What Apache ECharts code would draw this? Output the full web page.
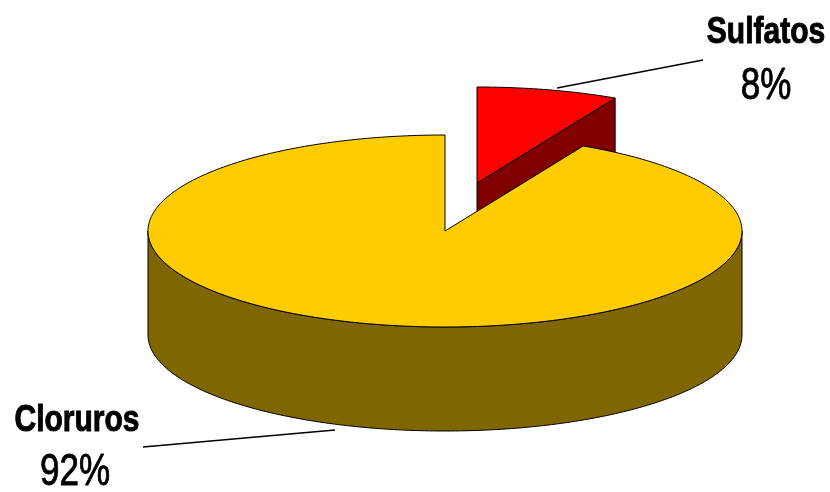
<!DOCTYPE html>
<html>
<head>
<meta charset="utf-8">
<style>html,body{margin:0;background:#fff}#show{width:830px;height:492px}</style>
<script src="https://cdn.jsdelivr.net/npm/echarts@6/dist/echarts.min.js"></script>
</head>
<body>
<div id="show"></div>
<script>
var categories = ['Cloruros', 'Sulfatos'];
var values = [92.3, 7.7];
var topColors = ['#ffcc00', '#ff0000'];
var wallColors = ['#806600', '#800000'];

var myChart = echarts.init(document.getElementById('show'));

// flattened pie: ellipse radii and wall height
var cx = 445, cy = 231, rx = 297, ry = 96, depth = 104;
var explode = [[0, 0], [32, -48]];
var total = values[0] + values[1];
// Sulfatos starts at 12 o'clock going clockwise, Cloruros takes the rest
var startAngles = [values[1] / total * 360, 0];

function pt(deg, ox, oy, dy) {
    var a = deg * Math.PI / 180;
    return [cx + ox + rx * Math.sin(a), cy + oy - ry * Math.cos(a) + (dy || 0)];
}

function renderSlice(params, api) {
    var idx = api.value(0);
    var from = startAngles[idx];
    var to = from + api.value(1) / total * 360;
    var ox = explode[idx][0], oy = explode[idx][1];
    var centre = [cx + ox, cy + oy];
    var children = [];
    var line = { stroke: '#000', lineWidth: 1 };

    // cut wall facing the viewer (only the small slice shows one)
    if (idx === 1) {
        var e = pt(to, ox, oy);
        children.push({
            type: 'polygon',
            shape: { points: [centre, e, pt(to, ox, oy, depth), [centre[0], centre[1] + depth]] },
            style: Object.assign({ fill: wallColors[idx] }, line)
        });
    }

    // outer wall, front half of the rim only
    var wall = [], a;
    var wallFrom = Math.max(from, 90), wallTo = Math.min(to, 270);
    if (wallTo > wallFrom) {
        for (a = wallFrom; a <= wallTo; a += 1) wall.push(pt(a, ox, oy));
        for (a = wallTo; a >= wallFrom; a -= 1) wall.push(pt(a, ox, oy, depth));
        children.push({
            type: 'polygon',
            shape: { points: wall },
            style: Object.assign({ fill: wallColors[idx] }, line)
        });
    }

    // top face
    var face = [centre];
    for (a = from; a < to; a += 1) face.push(pt(a, ox, oy));
    face.push(pt(to, ox, oy));
    children.push({
        type: 'polygon',
        shape: { points: face },
        style: Object.assign({ fill: topColors[idx] }, line)
    });

    return { type: 'group', children: children };
}

function label(text, x, y, size, bold) {
    return {
        type: 'text',
        x: x, y: y,
        scaleY: 1.25,
        style: {
            text: text,
            fill: '#000',
            stroke: '#000',
            lineWidth: bold ? 0.8 : 0.7,
            font: (bold ? 'bold ' : '') + size + 'px "Liberation Sans", Arial, sans-serif',
            align: 'center',
            verticalAlign: 'middle'
        }
    };
}

function pct(i) {
    return Math.round(values[i] / total * 100) + '%';
}

myChart.setOption({
    animation: false,
    backgroundColor: '#fff',
    graphic: [
        label(categories[1], 766, 33, 30, true),
        label(pct(1), 766, 87, 35, false),
        label(categories[0], 77, 421, 30, true),
        label(pct(0), 75, 473, 35, false),
        { type: 'line', shape: { x1: 703, y1: 60, x2: 557, y2: 88 }, style: { stroke: '#000', lineWidth: 1.5 } },
        { type: 'line', shape: { x1: 143, y1: 447, x2: 335, y2: 430 }, style: { stroke: '#000', lineWidth: 1.5 } }
    ],
    series: [{
        type: 'custom',
        coordinateSystem: 'none',
        renderItem: renderSlice,
        // back slice first so the big one covers it
        data: [[1, values[1]], [0, values[0]]]
    }]
});
</script>
</body>
</html>
